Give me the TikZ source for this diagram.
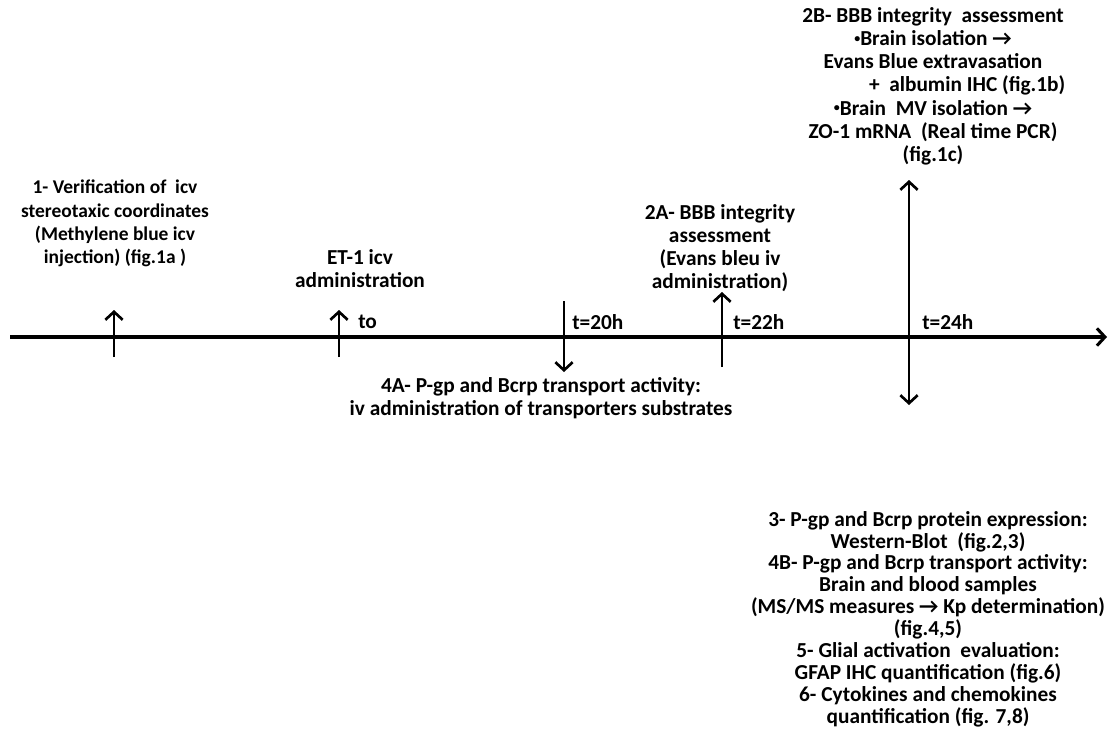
\documentclass[tikz,border=0pt]{standalone}
\usepackage{fontspec}
\setmainfont{Carlito}
\usetikzlibrary{arrows.meta}

\newcommand{\smallbullet}{{\fontsize{9pt}{9pt}\selectfont\raisebox{0.55ex}{•}}}

\tikzset{
        time axis/.style={line width=2.3pt, -{Straight Barb[length=6pt,width=13pt]}},
        event/.style={line width=2pt, -{Straight Barb[length=6pt,width=13pt]}},
        two way event/.style={line width=2pt, {Straight Barb[length=6pt,width=13pt]}-{Straight Barb[length=6pt,width=13pt]}},
        step text/.style={align=center, inner sep=0pt, anchor=north},
        time text/.style={inner sep=0pt, anchor=west}
}

\begin{document}
\begin{tikzpicture}[x=0.75pt, y=-0.75pt, font=\fontsize{16pt}{17.4pt}\selectfont\bfseries]
        \useasboundingbox (0,0) rectangle (1109,736);
        % time axis
        \coordinate (axis start) at (10,337);
        \coordinate (axis end) at (1107,337);
        \draw[time axis] (axis start) -- (axis end);
        % arrow ends
        \coordinate (mb foot) at (114,357);  \coordinate (mb tip) at (114,310);
        \coordinate (et foot) at (339,357);  \coordinate (et tip) at (339,310);
        \coordinate (h20 foot) at (564,301); \coordinate (h20 tip) at (564,372);
        \coordinate (h22 foot) at (722,367); \coordinate (h22 tip) at (722,292);
        \coordinate (h24 up) at (909,180);   \coordinate (h24 down) at (909,405);
        \draw[event] (mb foot) -- (mb tip);
        \draw[event] (et foot) -- (et tip);
        \draw[event] (h20 foot) -- (h20 tip);
        \draw[event] (h22 foot) -- (h22 tip);
        \draw[two way event] (h24 up) -- (h24 down);
        % times
        \node[time text] (t0) at (358,322) {to};
        \node[time text] (t20) at (572,322) {t=20h};
        \node[time text] (t22) at (733,322) {t=22h};
        \node[time text] (t24) at (922,322) {t=24h};
        % steps
        \node[step text, font=\fontsize{14.6pt}{17.4pt}\selectfont\bfseries] (step1) at (115,180) {1- Verification of\ \ icv\\stereotaxic coordinates\\(Methylene blue icv\\injection) (fig.1a )};
        \node[step text] (et1) at (360,249) {ET-1 icv\\administration};
        \node[step text] (step2a) at (720,204) {2A- BBB integrity\\assessment\\(Evans bleu iv\\administration)};
        \node[step text] (step2b) at (933,7) {2B- BBB integrity\ \ assessment\\\smallbullet Brain isolation →\\Evans Blue extravasation\\\hspace*{3.2em}+\ \ albumin IHC (fig.1b)\\\smallbullet Brain\ \ MV isolation →\\ZO-1 mRNA\ \ (Real time PCR)\\(fig.1c)};
        \node[step text] (step4a) at (541,377) {4A- P-gp and Bcrp transport activity:\\iv administration of transporters substrates};
        \node[step text, font=\fontsize{16pt}{16.4pt}\selectfont\bfseries] (step3) at (928,511) {3- P-gp and Bcrp protein expression:\\Western-Blot\ \ (fig.2,3)\\4B- P-gp and Bcrp transport activity:\\Brain and blood samples\\(MS/MS measures → Kp determination)\\(fig.4,5)\\5- Glial activation\ \ evaluation:\\GFAP IHC quantification (fig.6)\\6- Cytokines and chemokines\\quantification (fig. 7,8)};
\end{tikzpicture}
\end{document}
